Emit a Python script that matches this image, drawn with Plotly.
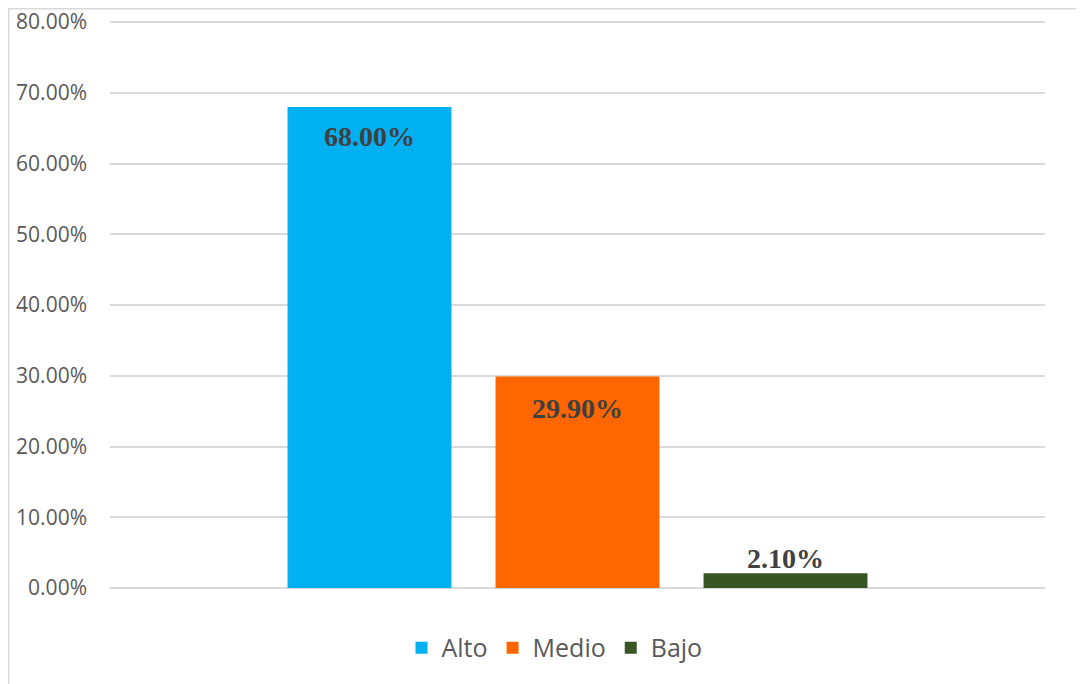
import plotly.graph_objects as go

categories = ["Alto", "Medio", "Bajo"]
values = [0.68, 0.299, 0.021]
labels = ["68.00%", "29.90%", "2.10%"]
colors = ["#00B0F0", "#FF6600", "#375623"]
label_shift = [-29, -32, 15]
tick_vals = [0, 0.1, 0.2, 0.3, 0.4, 0.5, 0.6, 0.7, 0.8]

fig = go.Figure()
for i, (c, v, col) in enumerate(zip(categories, values, colors)):
    fig.add_trace(go.Bar(x=[i], y=[v], name=c, marker=dict(color=col, line=dict(width=0)),
                         width=0.788, hoverinfo="skip"))
    fig.add_annotation(x=i, y=v, text="<b>" + labels[i] + "</b>", showarrow=False,
                       yshift=label_shift[i], xanchor="center", yanchor="middle",
                       font=dict(family="Liberation Serif", size=28, color="#404040"))

W, H = 1084, 684
ymax = 0.803
ml, mt = 102, 12
pw, ph = 935, 566 * ymax / 0.8
mr = W - ml - pw
mb = H - mt - ph
half = pw / 208 / 2

fig.update_layout(
    width=W, height=H,
    margin=dict(l=ml, r=mr, t=mt, b=mb, autoexpand=False),
    paper_bgcolor="white", plot_bgcolor="white",
    barmode="overlay",
    showlegend=True,
    legend=dict(orientation="h", x=(554.5 - 110) / pw, xanchor="center", y=-60 / ph, yanchor="middle",
                font=dict(family="Open Sans", size=25, color="#595959"),
                itemwidth=30, traceorder="normal"),
    xaxis=dict(range=[1 - half, 1 + half], showticklabels=False, showgrid=False,
               zeroline=False, showline=False, fixedrange=True),
    yaxis=dict(range=[0, ymax], tickvals=tick_vals, tickformat=".2%",
               showgrid=True, gridcolor="#D9D9D9", gridwidth=1.5,
               zeroline=True, zerolinecolor="#D9D9D9", zerolinewidth=1.5,
               showline=False, ticks="", ticklabelstandoff=22, ticklabeloverflow="allow",
               tickfont=dict(family="Open Sans", size=21, color="#595959")),
    shapes=[dict(type="rect", xref="paper", yref="paper",
                 x0=-(110 - 8.7) / pw, x1=1.2, y0=-0.3, y1=1 + (mt - 0.8) / ph,
                 line=dict(color="#D9D9D9", width=1.5), fillcolor="rgba(0,0,0,0)", layer="below")],
)

fig.write_html("out.html")
